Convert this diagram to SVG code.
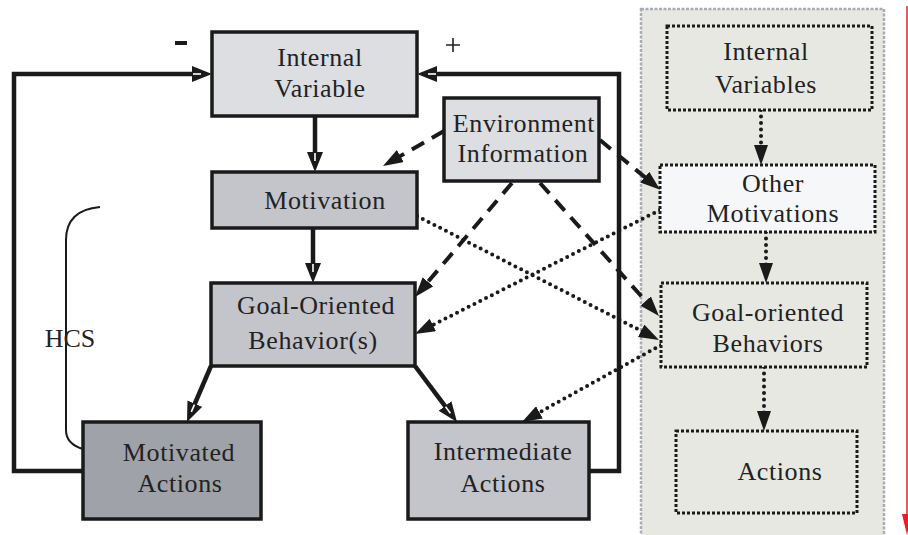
<svg xmlns="http://www.w3.org/2000/svg" width="908" height="535" viewBox="0 0 908 535">
<style>
text{font-family:"Liberation Serif","DejaVu Serif",serif;font-size:26px;fill:#222;text-anchor:middle;letter-spacing:0.6px}
.box{stroke:#1a1a1a;stroke-width:3.5}
.dbox{stroke:#1a1a1a;stroke-width:3;stroke-dasharray:3 2}
.solid{fill:none;stroke:#1a1a1a;stroke-width:4.5}
.dash{fill:none;stroke:#1a1a1a;stroke-width:4;stroke-dasharray:14 9}
.dot{fill:none;stroke:#1a1a1a;stroke-width:4;stroke-dasharray:0 6.5;stroke-linecap:round}
</style>
<defs>
<marker id="as" markerUnits="userSpaceOnUse" viewBox="0 0 20 16" refX="8" refY="8" markerWidth="20" markerHeight="16" orient="auto">
<path d="M0,0 L20,8 L0,16 z" fill="#1a1a1a"/>
<path d="M1,8 L9,8" stroke="#fff" stroke-width="1.6"/>
</marker>
<marker id="ad" markerUnits="userSpaceOnUse" viewBox="0 0 20 14" refX="8" refY="7" markerWidth="20" markerHeight="14" orient="auto">
<path d="M0,0 L20,7 L0,14 z" fill="#1a1a1a"/>
</marker>
</defs>
<rect width="908" height="535" fill="#fff"/>
<rect x="641" y="9" width="243" height="530" fill="#e8e8e2" stroke="#a6adb4" stroke-width="2.5" stroke-dasharray="3 1.5"/>
<line x1="907" y1="6" x2="907" y2="520" stroke="#d42a2a" stroke-width="1.5"/>
<polygon points="902,514 912,514 907,535" fill="#e0202a"/>
<path d="M100,207 Q66,210 66,240 L66,430 Q66,444 83,449" fill="none" stroke="#1a1a1a" stroke-width="2"/>
<text x="70" y="347" style="letter-spacing:0">HCS</text>
<rect x="175" y="41" width="12" height="4" fill="#1a1a1a"/>
<path d="M446,45 L460,45 M453,38 L453,52" stroke="#222" stroke-width="1.6" fill="none"/>
<g id="connectors">
<path class="solid" d="M83,471 L14,471 L14,74 L200,74" marker-end="url(#as)"/>
<path class="solid" d="M589,471 L619,471 L619,74 L429,74" marker-end="url(#as)"/>
<path class="solid" d="M315,116 L315,160" marker-end="url(#as)"/>
<path class="solid" d="M313,228 L313,271" marker-end="url(#as)"/>
<path class="solid" d="M211,366 L191.7,411" marker-end="url(#as)"/>
<path class="solid" d="M415,366 L449.8,412.4" marker-end="url(#as)"/>
<path class="dash" d="M444,131 L393.4,160" marker-end="url(#ad)"/>
<path class="dash" d="M512,183 L422.8,287.9" marker-end="url(#ad)"/>
<path class="dash" d="M540,183 L651,307" marker-end="url(#ad)"/>
<path class="dash" d="M600,140 L650.9,182.2" marker-end="url(#ad)"/>
<path class="dot" d="M417,216 L648.3,334.5" marker-end="url(#ad)"/>
<path class="dot" d="M660,210 L425.7,328.6" marker-end="url(#ad)"/>
<path class="dot" d="M661,345 L532.5,416.2" marker-end="url(#ad)"/>
<path class="dot" d="M761,110 L761,153" marker-end="url(#ad)"/>
<path class="dot" d="M766,232 L766,271" marker-end="url(#ad)"/>
<path class="dot" d="M764,367 L764,419" marker-end="url(#ad)"/>
</g>
<g id="internal-variable">
<rect class="box" x="212" y="32" width="205" height="84" fill="#dcdee2"/>
<text x="320" y="66">Internal</text>
<text x="320" y="97">Variable</text>
</g>
<g id="motivation">
<rect class="box" x="212" y="172" width="205" height="56" fill="#c3c5cb"/>
<text x="325" y="209">Motivation</text>
</g>
<g id="goal-oriented-behaviors">
<rect class="box" x="211" y="283" width="204" height="83" fill="#c3c5cb"/>
<text x="316" y="314">Goal-Oriented</text>
<text x="313" y="349">Behavior(s)</text>
</g>
<g id="motivated-actions">
<rect class="box" x="83" y="422" width="178" height="97" fill="#9fa3a9"/>
<text x="179" y="461">Motivated</text>
<text x="180" y="492">Actions</text>
</g>
<g id="intermediate-actions">
<rect class="box" x="408" y="422" width="181" height="97" fill="#c3c5cb"/>
<text x="503" y="460">Intermediate</text>
<text x="503" y="492">Actions</text>
</g>
<g id="environment-information">
<rect class="box" x="444" y="98" width="155" height="83" fill="#dcdee2"/>
<text x="524" y="132">Environment</text>
<text x="523" y="162">Information</text>
</g>
<g id="internal-variables">
<rect class="dbox" x="667" y="26" width="205" height="84" fill="#e8e8e2"/>
<text x="766" y="60">Internal</text>
<text x="766" y="93">Variables</text>
</g>
<g id="other-motivations">
<rect class="dbox" x="660" y="165" width="215" height="67" fill="#f6f7f9"/>
<text x="773" y="192">Other</text>
<text x="773" y="222">Motivations</text>
</g>
<g id="goal-oriented-behaviors-r">
<rect class="dbox" x="661" y="283" width="206" height="84" fill="#e8e8e2"/>
<text x="768" y="321">Goal-oriented</text>
<text x="768" y="352">Behaviors</text>
</g>
<g id="actions">
<rect class="dbox" x="676" y="431" width="181" height="82" fill="#e8e8e2"/>
<text x="780" y="480">Actions</text>
</g>
</svg>
